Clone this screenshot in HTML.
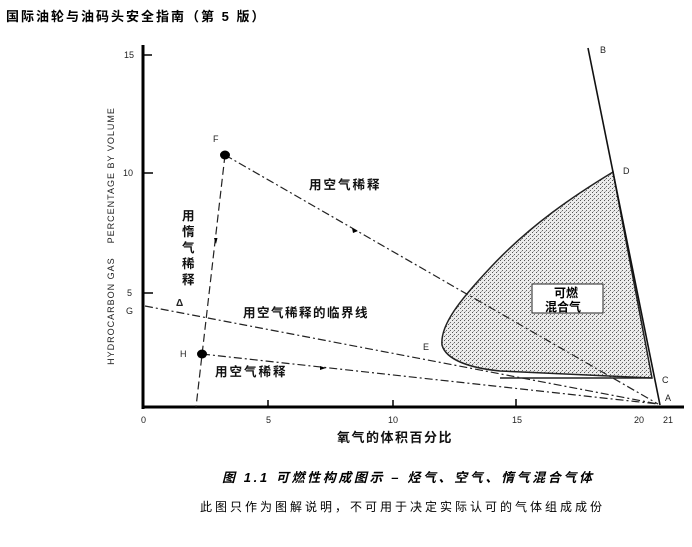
<!DOCTYPE html>
<html><head><meta charset="utf-8"><style>
body{margin:0;background:#fff;width:692px;height:547px;overflow:hidden}
svg{display:block}
.cn{font-family:"Liberation Sans","Noto Sans CJK SC",sans-serif}
</style></head><body>
<svg width="692" height="547" viewBox="0 0 692 547" xmlns="http://www.w3.org/2000/svg">
<defs>
<pattern id="dots" width="4" height="4" patternUnits="userSpaceOnUse">
<rect width="4" height="4" fill="#ececec"/>
<rect x="0" y="0" width="1" height="1" fill="#555"/>
<rect x="2" y="2" width="1" height="1" fill="#666"/>
<rect x="1" y="3" width="1" height="1" fill="#aaa"/>
</pattern>
</defs>
<text x="6" y="21" class="cn" font-size="13" font-weight="bold" letter-spacing="2">国际油轮与油码头安全指南（第 5 版）</text>

<path d="M613,172 C575,195 530,225 490,268 C460,300 440,325 442,345 C446,360 470,368 500,371 L652,378 L613,172 Z" fill="url(#dots)" stroke="#222" stroke-width="1.5"/>
<line x1="500" y1="378" x2="652" y2="378" stroke="#222" stroke-width="1.5"/>

<line x1="143" y1="45" x2="143" y2="409" stroke="#000" stroke-width="3"/>
<line x1="142" y1="407" x2="684" y2="407" stroke="#000" stroke-width="3"/>
<g stroke="#000" stroke-width="1.5">
<line x1="143" y1="55" x2="152" y2="55"/>
<line x1="143" y1="173" x2="153" y2="173"/>
<line x1="143" y1="293" x2="153" y2="293"/>
<line x1="268" y1="400" x2="268" y2="407"/>
<line x1="393" y1="400" x2="393" y2="407"/>
<line x1="516" y1="399" x2="516" y2="407"/>
</g>

<line x1="588" y1="48" x2="660" y2="405" stroke="#111" stroke-width="1.6"/>

<g stroke="#222" stroke-width="1.2" fill="none">
<line x1="225" y1="155" x2="658" y2="404" stroke-dasharray="8,3,2,3"/>
<line x1="145" y1="306" x2="658" y2="404" stroke-dasharray="8,3,2,3"/>
<line x1="202" y1="354" x2="658" y2="404" stroke-dasharray="8,3,2,3"/>
<line x1="225" y1="155" x2="196" y2="407" stroke-dasharray="8,4"/>
</g>
<ellipse cx="225" cy="155" rx="5" ry="4.5" fill="#000"/>
<ellipse cx="202" cy="354" rx="5" ry="4.5" fill="#000"/>
<path d="M352,228 l6,3 l-5,2 z" fill="#000"/>
<path d="M320,366 l6,2 l-6,2 z" fill="#000"/>
<path d="M214,238 l2,6 l1.5,-6 z" fill="#000"/>

<rect x="532" y="284" width="71" height="29" fill="#fff" stroke="#222" stroke-width="1"/>
<text x="566" y="297" text-anchor="middle" class="cn" font-size="12" font-weight="bold">可燃</text>
<text x="563" y="311" text-anchor="middle" class="cn" font-size="12" font-weight="bold">混合气</text>

<g font-family="Liberation Sans,sans-serif" font-size="9" fill="#222">
<text x="600" y="53">B</text>
<text x="623" y="174">D</text>
<text x="662" y="383">C</text>
<text x="665" y="401">A</text>
<text x="423" y="350">E</text>
<text x="213" y="142">F</text>
<text x="180" y="357">H</text>
<text x="126" y="314">G</text>
<text x="124" y="58" font-size="9">15</text>
<text x="123" y="176" font-size="9">10</text>
<text x="127" y="296" font-size="9">5</text>
<text x="141" y="423" font-size="9">0</text>
<text x="266" y="423" font-size="9">5</text>
<text x="388" y="423" font-size="9">10</text>
<text x="512" y="423" font-size="9">15</text>
<text x="634" y="423" font-size="9">20</text>
<text x="663" y="423" font-size="9">21</text>
<text x="176" y="306" font-size="10" font-weight="bold">Δ</text>
</g>
<text transform="translate(114,236) rotate(-90)" text-anchor="middle" font-family="Liberation Sans,sans-serif" font-size="9" letter-spacing="1" fill="#222">HYDROCARBON GAS &#160;&#160;&#160;PERCENTAGE BY VOLUME</text>

<g class="cn" font-size="12.5" font-weight="bold" fill="#111" letter-spacing="2">
<text x="309" y="189">用空气稀释</text>
<text x="243" y="317" letter-spacing="1.5">用空气稀释的临界线</text>
<text x="215" y="376">用空气稀释</text>
<text x="182" y="220">用</text>
<text x="182" y="236">惰</text>
<text x="182" y="252">气</text>
<text x="182" y="268">稀</text>
<text x="182" y="284">释</text>
<text x="337" y="442" font-size="13" letter-spacing="1.5">氧气的体积百分比</text>
</g>
<text x="222" y="482" class="cn" font-size="13" font-style="italic" font-weight="bold" letter-spacing="2.6">图 1.1 可燃性构成图示 – 烃气、空气、惰气混合气体</text>
<text x="200" y="511" class="cn" font-size="12" letter-spacing="3">此图只作为图解说明，不可用于决定实际认可的气体组成成份</text>
</svg>
</body></html>
